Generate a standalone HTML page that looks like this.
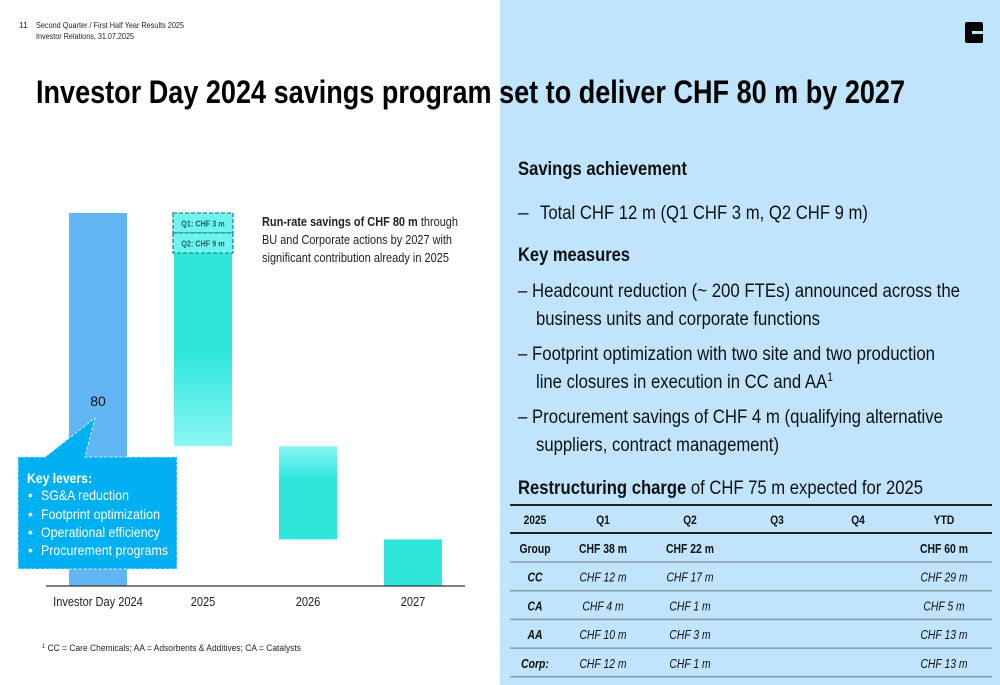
<!DOCTYPE html>
<html><head><meta charset="utf-8"><style>
html,body{margin:0;padding:0;background:#fff}
svg{display:block;font-family:"Liberation Sans",sans-serif}
</style></head><body>
<svg width="1000" height="685" viewBox="0 0 1000 685">
<defs>
<linearGradient id="g25" x1="0" y1="0" x2="0" y2="1">
<stop offset="0" stop-color="#2ee6dc"/><stop offset="0.6" stop-color="#2ee6dc"/><stop offset="1" stop-color="#8af7f4"/></linearGradient>
<linearGradient id="g26" x1="0" y1="0" x2="0" y2="1">
<stop offset="0" stop-color="#8af7f4"/><stop offset="0.35" stop-color="#2ee6dc"/><stop offset="1" stop-color="#2ee6dc"/></linearGradient>
</defs>
<rect x="500" y="0" width="500" height="685" fill="#c0e4fc"/>
<g font-size="8.5" fill="#222">
<text x="19" y="28">11</text>
<text x="36" y="28" textLength="148" lengthAdjust="spacingAndGlyphs">Second Quarter / First Half Year Results 2025</text>
<text x="36" y="39" textLength="98" lengthAdjust="spacingAndGlyphs">Investor Relations, 31.07.2025</text>
</g>
<g>
<rect x="965" y="22" width="18" height="21" rx="2" fill="#000"/>
<rect x="972" y="31" width="11" height="3" fill="#c0e4fc"/>
</g>
<text x="36" y="103" font-size="32" font-weight="bold" fill="#000" textLength="869" lengthAdjust="spacingAndGlyphs">Investor Day 2024 savings program set to deliver CHF 80 m by 2027</text>

<g id="chart"></g>

<g font-size="12.5" fill="#222">
<text x="262" y="226" textLength="196" lengthAdjust="spacingAndGlyphs"><tspan font-weight="bold">Run-rate savings of CHF 80 m</tspan> through</text>
<text x="262" y="244" textLength="190" lengthAdjust="spacingAndGlyphs">BU and Corporate actions by 2027 with</text>
<text x="262" y="262" textLength="187" lengthAdjust="spacingAndGlyphs">significant contribution already in 2025</text>
</g>

<g>
<path d="M18 457 L45 457 L95 418 L85 457 L177 457 L177 569 L18 569 Z" fill="#00b0f0" stroke="#cfeefc" stroke-dasharray="3 2" stroke-width="1"/>
<text x="27" y="483" font-size="14" font-weight="bold" fill="#fff" textLength="65" lengthAdjust="spacingAndGlyphs">Key levers:</text>
<g font-size="14" fill="#fff">
<text x="28" y="500">•</text><text x="41" y="500" textLength="88" lengthAdjust="spacingAndGlyphs">SG&amp;A reduction</text>
<text x="28" y="519">•</text><text x="41" y="519" textLength="119" lengthAdjust="spacingAndGlyphs">Footprint optimization</text>
<text x="28" y="537">•</text><text x="41" y="537" textLength="119" lengthAdjust="spacingAndGlyphs">Operational efficiency</text>
<text x="28" y="555">•</text><text x="41" y="555" textLength="127" lengthAdjust="spacingAndGlyphs">Procurement programs</text>
</g>
</g>

<text x="42" y="651" font-size="9" fill="#222" textLength="259" lengthAdjust="spacingAndGlyphs"><tspan font-size="6" dy="-3">1</tspan><tspan dy="3"> CC = Care Chemicals; AA = Adsorbents &amp; Additives; CA = Catalysts</tspan></text>

<g fill="#111">
<text x="518" y="175" font-size="19" font-weight="bold" textLength="169" lengthAdjust="spacingAndGlyphs">Savings achievement</text>
<text x="518" y="219" font-size="19">–</text>
<text x="540" y="219" font-size="19" textLength="328" lengthAdjust="spacingAndGlyphs">Total CHF 12 m (Q1 CHF 3 m, Q2 CHF 9 m)</text>
<text x="518" y="261" font-size="19" font-weight="bold" textLength="112" lengthAdjust="spacingAndGlyphs">Key measures</text>
<g font-size="19">
<text x="518" y="297" textLength="442" lengthAdjust="spacingAndGlyphs">– Headcount reduction (~ 200 FTEs) announced across the</text>
<text x="536" y="325" textLength="284" lengthAdjust="spacingAndGlyphs">business units and corporate functions</text>
<text x="518" y="360" textLength="417" lengthAdjust="spacingAndGlyphs">– Footprint optimization with two site and two production</text>
<text x="536" y="388" textLength="297" lengthAdjust="spacingAndGlyphs">line closures in execution in CC and AA<tspan font-size="12" dy="-7">1</tspan></text>
<text x="518" y="423" textLength="425" lengthAdjust="spacingAndGlyphs">– Procurement savings of CHF 4 m (qualifying alternative</text>
<text x="536" y="451" textLength="243" lengthAdjust="spacingAndGlyphs">suppliers, contract management)</text>
</g>
<text x="518" y="494" font-size="19" textLength="405" lengthAdjust="spacingAndGlyphs"><tspan font-weight="bold">Restructuring charge</tspan> of CHF 75 m expected for 2025</text>
</g>

<g id="table"></g>

<script>
// chart data
const categories = ["Investor Day 2024", "2025", "2026", "2027"];
const savingsValues = [80, 50, 20, 10];
const barLabel = "80";
const q1Label = "Q1: CHF 3 m";
const q2Label = "Q2: CHF 9 m";

const NS = "http://www.w3.org/2000/svg";
const chart = document.getElementById("chart");
const baseY = 586, plotTop = 213, maxV = 80;
const yScale = v => baseY - (v / maxV) * (baseY - plotTop);
const xCenter = i => 98 + i * 105;
const barW = 58;
function mk(tag, attrs, parent) {
  const e = document.createElementNS(NS, tag);
  for (const k in attrs) e.setAttribute(k, attrs[k]);
  parent.appendChild(e);
  return e;
}
function squeeze(t, f) {
  const w = t.getComputedTextLength();
  if (w > 0) { t.setAttribute("textLength", (w * f).toFixed(1)); t.setAttribute("lengthAdjust", "spacingAndGlyphs"); }
}
let cum = 0;
categories.forEach((c, i) => {
  const v = savingsValues[i];
  let top, bot;
  if (i === 0) { top = yScale(v); bot = baseY; cum = v; }
  else { top = yScale(cum); bot = yScale(cum - v); cum -= v; }
  const fill = i === 0 ? "#60b5f2" : (i === 1 ? "url(#g25)" : (i === 2 ? "url(#g26)" : "#2ee6dc"));
  const r = mk("rect", {x: xCenter(i) - barW / 2, y: top, width: barW, height: bot - top, fill: fill}, chart);
  
  
  const t = mk("text", {x: xCenter(i), y: 606, "text-anchor": "middle", "font-size": "13", fill: "#222"}, chart);
  t.textContent = c;
  
  
  squeeze(t, 0.85);
});
const ax = mk("line", {x1: 46, x2: 465, y1: baseY, y2: baseY, stroke: "#333", "stroke-width": 1.2}, chart);


const vl = mk("text", {x: xCenter(0), y: 406, "text-anchor": "middle", "font-size": "14", fill: "#111"}, chart);
vl.textContent = barLabel;


const qTop = yScale(savingsValues[0]);
[q1Label, q2Label].forEach((lab, k) => {
  const y = qTop + k * 20;
  const b = mk("rect", {x: xCenter(1) - 30, y: y, width: 60, height: 20, fill: "#6ff3ef", stroke: "#1a8a86", "stroke-dasharray": "4 2", "stroke-width": 1.3}, chart);
  
  
  const t = mk("text", {x: xCenter(1), y: y + 13.5, "text-anchor": "middle", "font-size": "8.5", "font-weight": "bold", fill: "#1f5f60"}, chart);
  t.textContent = lab;
  
  
  squeeze(t, 0.85);
});

// table
const tbl = document.getElementById("table");
const header = ["2025", "Q1", "Q2", "Q3", "Q4", "YTD"];
const rows = [
  ["Group", "CHF 38 m", "CHF 22 m", "", "", "CHF 60 m"],
  ["CC", "CHF 12 m", "CHF 17 m", "", "", "CHF 29 m"],
  ["CA", "CHF 4 m", "CHF 1 m", "", "", "CHF 5 m"],
  ["AA", "CHF 10 m", "CHF 3 m", "", "", "CHF 13 m"],
  ["Corp:", "CHF 12 m", "CHF 1 m", "", "", "CHF 13 m"]
];
const colX = [535, 603, 690, 777, 858, 944];
mk("line", {x1: 510, x2: 992, y1: 505, y2: 505, stroke: "#222", "stroke-width": 2}, tbl);
mk("line", {x1: 510, x2: 992, y1: 533, y2: 533, stroke: "#222", "stroke-width": 2}, tbl);
header.forEach((h, j) => {
  const t = mk("text", {x: colX[j], y: 524, "text-anchor": "middle", "font-size": "12", "font-weight": "bold", fill: "#111"}, tbl);
  t.textContent = h;
  squeeze(t, 0.85);
});
rows.forEach((r, i) => {
  const y = 553 + i * 28.7;
  r.forEach((c, j) => {
    if (!c) return;
    const a = {x: colX[j], y: y, "text-anchor": "middle", "font-size": "12.5", fill: "#111"};
    if (i === 0 || j === 0) a["font-weight"] = "bold";
    if (i > 0) a["font-style"] = "italic";
    const t = mk("text", a, tbl);
    t.textContent = c;
    squeeze(t, 0.83);
  });
  mk("line", {x1: 510, x2: 992, y1: 562 + i * 28.7, y2: 562 + i * 28.7, stroke: "#8a9ba8", "stroke-width": 1.5}, tbl);
});
</script>
</svg>
</body></html>
